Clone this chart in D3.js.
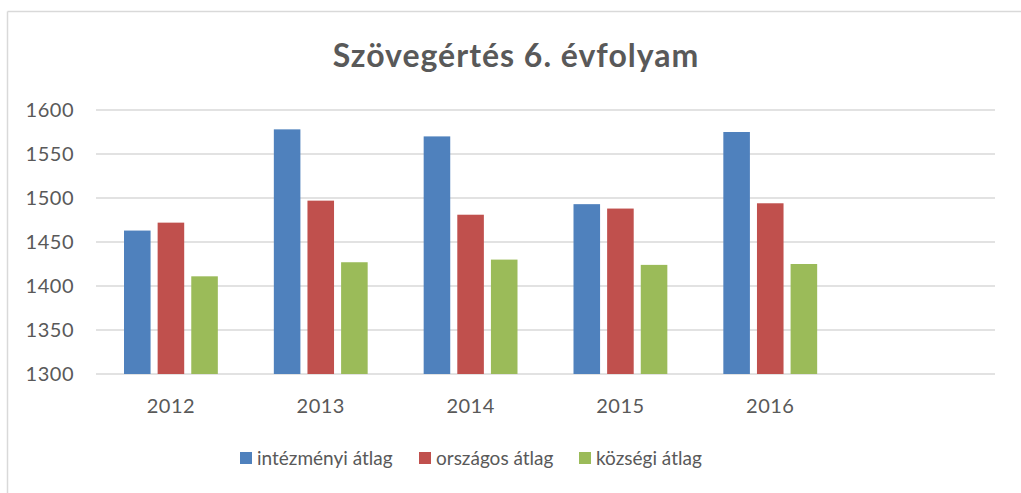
<!DOCTYPE html>
<html>
<head>
<meta charset="utf-8">
<script src="https://cdn.jsdelivr.net/npm/d3@7"></script>
<style>
  body { margin: 0; background: #fff; }
  svg { display: block; font-family: Lato, "Open Sans", sans-serif; }
</style>
</head>
<body>
<script>
const years = ["2012", "2013", "2014", "2015", "2016", ""];
const seriesNames = ["intézményi átlag", "országos átlag", "községi átlag"];
const seriesColors = ["#4f81bd", "#c0504d", "#9bbb59"];
const intezmenyi = [1463, 1578, 1570, 1493, 1575];
const orszagos = [1472, 1497, 1481, 1488, 1494];
const kozsegi = [1411, 1427, 1430, 1424, 1425];
const yTicks = [1300, 1350, 1400, 1450, 1500, 1550, 1600];

const W = 1021, H = 493;
const margin = { top: 110, right: 26, bottom: 119, left: 96 };
const width = W - margin.left - margin.right;
const height = H - margin.top - margin.bottom;

const svg = d3.select("body").append("svg")
  .attr("width", W)
  .attr("height", H);

// chart frame (only top and left edges show)
svg.append("line").attr("x1", 7.5).attr("x2", W).attr("y1", 11.5).attr("y2", 11.5)
  .attr("stroke", "#d9d9d9").attr("stroke-width", 1.5);
svg.append("line").attr("x1", 7.5).attr("x2", 7.5).attr("y1", 11.5).attr("y2", H)
  .attr("stroke", "#d9d9d9").attr("stroke-width", 1.5);

svg.append("text")
  .attr("x", 516)
  .attr("y", 67)
  .attr("text-anchor", "middle")
  .style("font-size", "32px")
  .style("font-weight", "bold")
  .style("letter-spacing", "1px")
  .style("fill", "#595959")
  .text("Szövegértés 6. évfolyam");

const g = svg.append("g")
  .attr("transform", `translate(${margin.left},${margin.top})`);

const x = d3.scaleBand()
  .domain(years)
  .range([0, width]);

const y = d3.scaleLinear()
  .domain([1300, 1600])
  .range([height, 0]);

const x1 = d3.scaleBand()
  .domain(d3.range(3))
  .range([28, x.bandwidth() - 28])
  .paddingInner(0.21);

// grid lines
g.selectAll(".grid")
  .data(yTicks)
  .join("line")
    .attr("class", "grid")
    .attr("x1", 0)
    .attr("x2", width)
    .attr("y1", d => y(d))
    .attr("y2", d => y(d))
    .attr("stroke", "#d9d9d9")
    .attr("stroke-width", 1.5);

// y tick labels
g.selectAll(".ytick")
  .data(yTicks)
  .join("text")
    .attr("class", "ytick")
    .attr("x", -22)
    .attr("y", d => y(d))
    .attr("dy", "0.35em")
    .attr("text-anchor", "end")
    .style("font-size", "20px")
    .style("letter-spacing", "0.5px")
    .style("fill", "#595959")
    .text(d => d);

// x labels
g.selectAll(".xtick")
  .data(years)
  .join("text")
    .attr("class", "xtick")
    .attr("x", d => x(d) + x.bandwidth() / 2)
    .attr("y", height + 39)
    .attr("text-anchor", "middle")
    .style("font-size", "20px")
    .style("letter-spacing", "0.5px")
    .style("fill", "#595959")
    .text(d => d);

const allSeries = [intezmenyi, orszagos, kozsegi];
const rows = [];
allSeries.forEach((vals, s) => {
  vals.forEach((v, i) => rows.push({ year: years[i], s: s, value: v }));
});

g.selectAll(".bar")
  .data(rows)
  .join("rect")
    .attr("class", "bar")
    .attr("x", d => x(d.year) + x1(d.s))
    .attr("width", x1.bandwidth())
    .attr("y", d => y(d.value))
    .attr("height", d => y(1300) - y(d.value))
    .attr("fill", d => seriesColors[d.s]);

// legend
const legendX = [240, 419, 579];
const legend = svg.append("g")
  .attr("transform", "translate(0,452)");

legend.selectAll(".legend-item")
  .data(seriesNames)
  .join("g")
    .attr("class", "legend-item")
    .each(function(d, i) {
      d3.select(this).append("rect")
        .attr("x", legendX[i])
        .attr("y", 0)
        .attr("width", 12)
        .attr("height", 12)
        .attr("fill", seriesColors[i]);
      d3.select(this).append("text")
        .attr("x", legendX[i] + 17)
        .attr("y", 6)
        .attr("dy", "0.35em")
        .style("font-size", "19px")
        .style("fill", "#595959")
        .text(d);
    });
</script>
</body>
</html>
